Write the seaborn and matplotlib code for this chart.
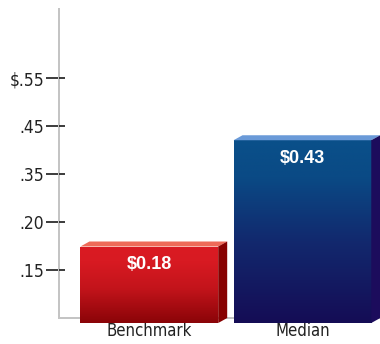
import numpy as np
import pandas as pd
import matplotlib
matplotlib.use("Agg")
import matplotlib.pyplot as plt
import seaborn as sns
from matplotlib.colors import LinearSegmentedColormap
from matplotlib.patches import Polygon

# ---- data ----
categories = ["Benchmark", "Median"]
values = [0.18, 0.43]
value_labels = ["$0.18", "$0.43"]
tick_labels = [".15", ".20", ".35", ".45", "$.55"]

# ---- style ----
front_stops = [["#8a0408", "#c3141b", "#d81a22", "#da1b23"],
               ["#150c55", "#12296e", "#0a4a85", "#0a508a"]]
top_face = ["#ee6a58", "#6a9ad8"]
side_face = ["#870000", "#1c0c5c"]

sns.set_theme(style="white")
plt.rcParams["font.family"] = ["DejaVu Sans"]
plt.rcParams["font.stretch"] = "condensed"

DPI = 100
PT = 72 / DPI  # points per pixel
fig = plt.figure(figsize=(3.80, 3.44), dpi=DPI)
ax = fig.add_axes([59 / 380, 21 / 344, 321 / 380, 314 / 344])

df = pd.DataFrame({"category": categories, "value": values})
sns.barplot(data=df, x="category", y="value", ax=ax, width=0.9,
            color="white", saturation=1, zorder=3)

px_per_unit_y = 425.0
ax.set_ylim(0, 314 / px_per_unit_y)
ax.set_xlim(-0.59, 1.507)

depth_dx, depth_dy = 9, 5  # pixels
base = depth_dy / px_per_unit_y
step = 48 / px_per_unit_y
ticks = [base + step * (k + 1) for k in range(len(tick_labels))]
ax.set_yticks(ticks)
ax.set_yticklabels(tick_labels)

for sp in ["top", "right"]:
    ax.spines[sp].set_visible(False)
for sp in ["left", "bottom"]:
    ax.spines[sp].set_color("#c4c4c4")
    ax.spines[sp].set_linewidth(2 * PT)
    ax.spines[sp].set_zorder(1)
ax.spines["left"].set_bounds(base, 314 / px_per_unit_y)
ax.spines["bottom"].set_position(("data", base))

ax.tick_params(axis="y", direction="out", length=13 * PT, width=1.6 * PT, color="#111111",
               pad=2 * PT, labelsize=12.5, labelcolor="#222222", left=True)
ax.tick_params(axis="x", length=0, pad=3, labelsize=12, labelcolor="#222222")
ax.set_xlabel("")
ax.set_ylabel("")
ax.grid(False)
# inward part of tick marks
for t in ticks:
    ax.plot([0, 6 / 321], [t, t], transform=ax.get_yaxis_transform(),
            color="#111111", lw=1.6 * PT, clip_on=False, zorder=4,
            solid_capstyle="butt")

fig.canvas.draw()
inv = ax.transData.inverted()
to_disp = ax.transData.transform

for i, patch in enumerate(ax.patches):
    x0 = patch.get_x()
    w = patch.get_width()
    h = patch.get_height()
    x1 = x0 + w
    cmap = LinearSegmentedColormap.from_list(
        f"g{i}", list(zip([0, 0.45, 0.8, 1.0], front_stops[i])))
    grad = np.linspace(0, 1, 256).reshape(-1, 1)
    im = ax.imshow(grad, extent=[x0, x1, 0, h], origin="lower", cmap=cmap,
                   aspect="auto", zorder=3, interpolation="bicubic")
    im.set_clip_path(patch)
    patch.set_edgecolor("none")
    (dx0, dy0), (dx1, dy1) = to_disp([(x0, 0), (x1, h)])
    top = [(dx0, dy1), (dx1, dy1), (dx1 + depth_dx, dy1 + depth_dy), (dx0 + depth_dx, dy1 + depth_dy)]
    side = [(dx1, dy0), (dx1, dy1), (dx1 + depth_dx, dy1 + depth_dy), (dx1 + depth_dx, dy0 + depth_dy)]
    for verts, col in [(top, top_face[i]), (side, side_face[i])]:
        poly = Polygon(inv.transform(verts), closed=True, facecolor=col,
                       edgecolor="none", zorder=3, clip_on=False)
        ax.add_patch(poly)
    ax.annotate(value_labels[i], xy=(x0 + w / 2, h), xytext=(0, -18),
                textcoords="offset pixels", ha="center", va="center",
                color="white", fontsize=13, fontweight="bold",
                family=["Liberation Sans", "DejaVu Sans"], fontstretch="normal",
                zorder=5)

ax.set_xlim(-0.59, 1.507)
ax.set_ylim(0, 314 / px_per_unit_y)
fig.savefig("out.png", dpi=DPI, facecolor="white")
